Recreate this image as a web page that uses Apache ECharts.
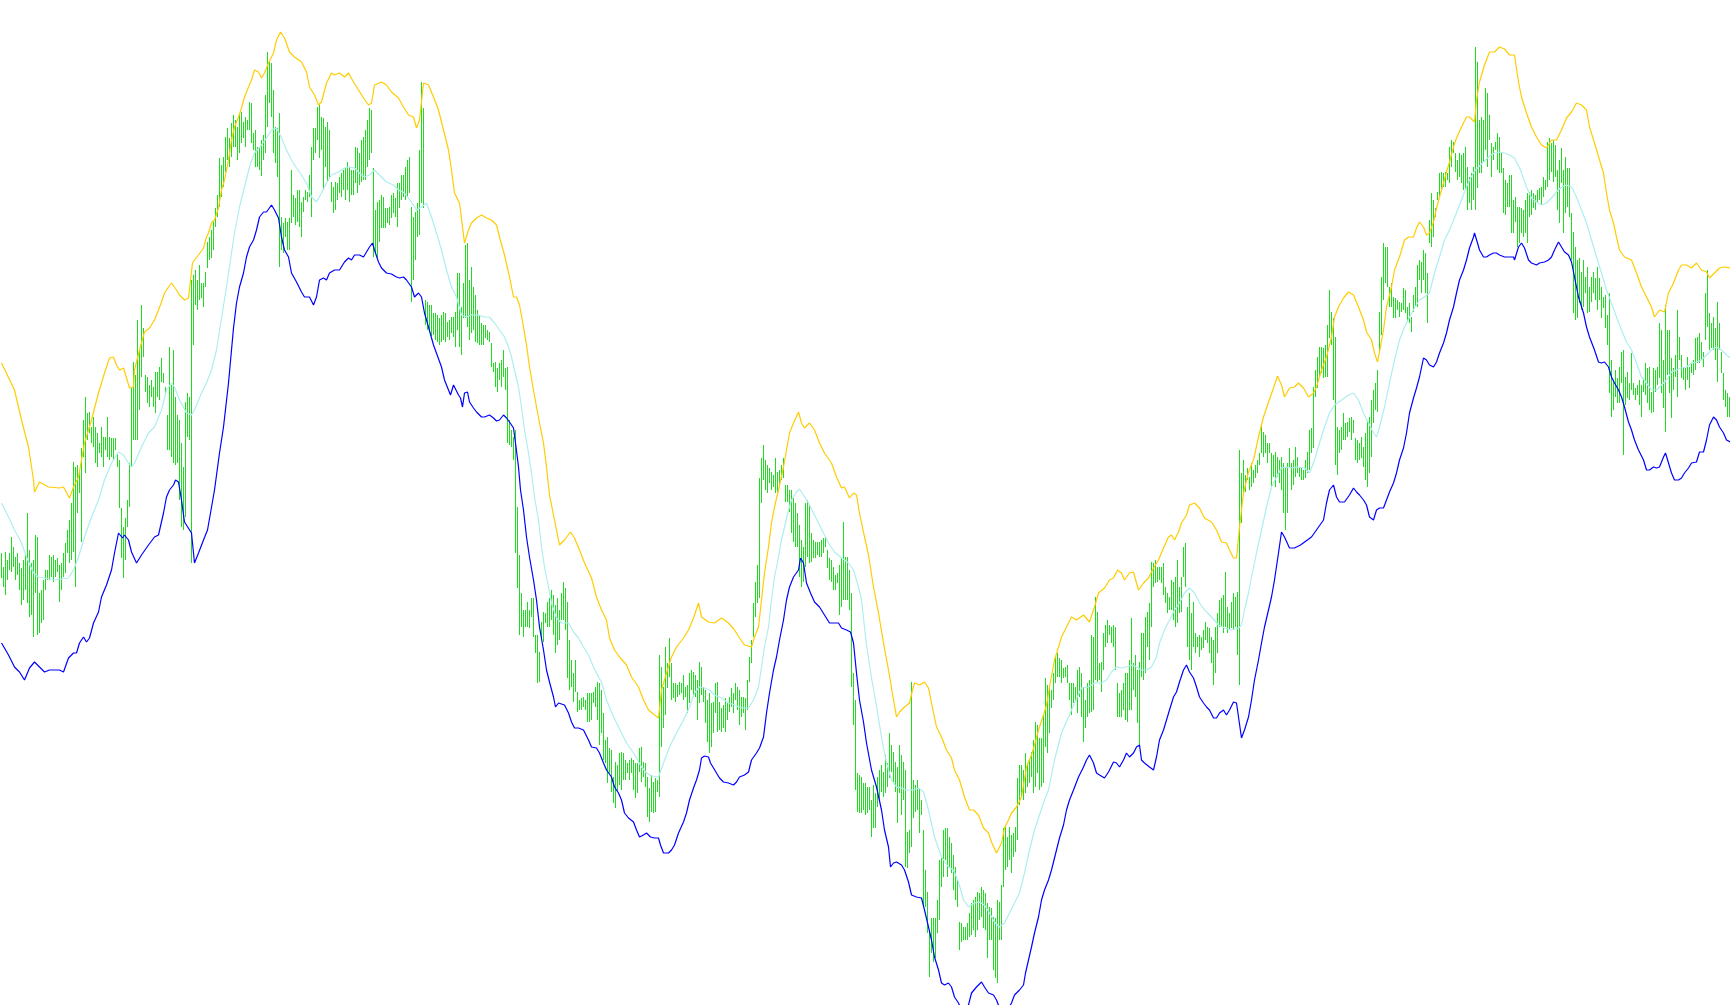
<!DOCTYPE html>
<html><head><meta charset="utf-8">
<script src="https://cdn.jsdelivr.net/npm/echarts@6.0.0/dist/echarts.min.js"></script>
<style>html,body{margin:0;padding:0;background:#fff;overflow:hidden}#c{width:1730px;height:1005px}</style>
</head><body><div id="c"></div>
<script>
// Bar highs / lows (price points), one per bar
const barHigh = [
447,433,448,440,447,463,453,443,447,437,
432,440,447,487,450,437,440,465,463,407,
410,420,430,430,445,443,445,440,442,435,
437,447,457,470,480,497,538,533,535,530,
552,580,603,587,588,573,583,573,567,557,
573,563,563,583,563,562,562,562,547,540,
492,473,482,500,537,612,638,625,680,650,
695,672,625,623,615,620,613,628,628,633,
642,627,613,585,653,615,650,603,585,580,
557,533,598,607,603,720,725,730,720,735,
717,717,728,758,763,770,778,792,805,842,
835,843,863,872,862,877,885,880,873,887,
888,878,883,880,898,897,867,870,853,852,
860,865,905,948,938,937,910,873,872,887,
783,777,782,778,782,830,805,802,810,810,
798,803,810,808,825,853,872,872,893,895,
883,882,873,878,870,818,813,818,817,823,
827,830,832,838,833,830,830,853,852,847,
860,863,870,880,892,890,832,790,798,800,
805,803,792,792,793,805,807,802,817,817,
825,825,833,840,843,793,783,788,797,850,
918,892,700,698,695,695,687,687,685,682,
685,688,687,678,680,683,683,688,727,727,
693,717,755,757,720,733,713,705,690,685,
677,675,675,670,668,657,637,638,632,637,
640,650,632,633,580,570,563,570,493,445,
407,390,390,398,390,402,402,365,365,348,
378,388,387,398,402,410,405,395,402,390,
407,418,412,398,360,340,327,340,308,300,
302,303,300,307,307,307,308,313,318,317,
310,287,260,263,252,250,223,238,235,247,
248,247,240,237,240,242,240,237,237,252,
253,238,237,223,212,225,218,222,220,345,
333,313,353,337,362,337,317,317,315,318,
317,325,313,315,327,330,328,325,320,338,
333,313,310,300,307,297,298,317,318,298,
292,295,302,297,303,312,307,317,313,310,
303,303,302,320,343,360,397,418,435,522,
542,555,540,535,532,528,525,542,528,530,
535,542,515,515,510,510,502,497,487,475,
460,453,497,500,495,467,460,458,458,458,
460,462,463,450,442,440,433,425,427,435,
442,478,443,443,430,407,327,300,227,225,
223,217,217,213,213,200,215,207,223,230,
235,228,245,237,267,255,248,238,233,255,
245,238,230,168,170,318,220,215,220,212,
200,170,130,108,70,82,82,82,100,140,
142,170,172,172,163,157,145,133,120,78,
77,73,73,77,87,97,100,103,108,107,
113,110,107,97,93,92,83,82,100,98,
115,172,173,163,173,165,167,173,222,235,
235,230,247,237,240,248,260,278,275,262,
262,285,322,315,313,310,327,343,347,342,
340,332,333,335,317,317,317,313,330,333,
327,313,300,317,320,365,363,403,388,337,
338,367,375,380,375,373,375,373,317,307,
310,317,327,327,340,382,337,345,330,338,
367,367,383,388,397,438,437,440,433,433,
433,437,413,407,403,420,418,423,440,413,
423,453,457,393,407,387,398,367,363,365,
363,370,378,373,372,363,360,373,387,400,
402,405,428,393,387,398,407,403,408,550,
527,540,525,532,523,537,530,535,540,547,
575,568,565,557,557,547,545,548,543,540,
543,537,533,537,552,537,540,553,543,533,
532,530,540,548,570,572,613,630,643,653,
653,652,655,675,710,688,682,663,573,570,
573,587,577,578,582,583,580,562,560,557,
563,553,567,580,583,600,610,617,630,688,
723,757,753,753,713,717,703,702,700,698,
697,712,710,693,697,683,705,713,735,740,
738,750,747,727,780,807,800,792,808,827,
828,827,828,827,853,860,858,847,840,847,
845,847,853,833,823,827,833,953,938,880,
883,880,912,907,885,857,853,858,867,863,
847,832,820,817,825,825,800,803,793,793,
792,790,800,807,808,810,807,805,810,812,
813,823,820,858,862,857,860,855,830,840,
852,830,843,832,832,787,768,753,740,742,
728,740,723,733,713,723,728,722,733,722,
713,703,705,685,707,640,618,630,622,633,
648,650,623,628,617,647,617,612,615,620,
615,622,637,632,633,608,632,630,633,677,
670,640,695,670,670,642,632,645,690,663,
645,633,632,643,633,637,640,662,663,667,
658,648,707,730,687,677,683,672,698,677,
648,627,610,607,603
];
const barLow = [
422,413,405,420,430,428,433,420,425,410,
395,400,410,397,383,385,363,407,365,367,
377,380,410,420,420,423,418,423,428,398,
410,423,427,447,437,440,448,413,487,507,
458,543,527,560,567,557,553,537,533,547,
543,533,550,543,540,543,540,550,533,492,
442,422,440,473,493,533,560,560,560,590,
623,643,608,597,593,603,593,587,603,600,
618,617,605,550,550,543,537,535,537,500,
473,470,483,563,560,437,655,695,690,700,
702,693,713,732,740,742,750,773,783,793,
803,813,828,840,833,843,853,853,840,847,
857,862,853,870,870,857,850,833,833,830,
824,840,847,873,897,883,847,837,823,733,
750,747,763,750,750,777,783,775,778,773,
763,788,800,798,803,783,840,847,860,842,
850,810,833,818,823,798,787,790,800,807,
803,810,800,810,798,805,805,817,807,815,
818,820,820,833,840,847,743,747,742,758,
772,772,772,777,775,782,787,783,773,792,
800,803,800,803,807,698,720,740,763,765,
797,792,675,670,668,664,665,660,658,655,
658,660,658,663,660,667,663,653,670,653,
645,682,682,673,660,667,670,658,657,655,
655,655,662,660,658,633,628,613,608,620,
613,623,610,557,555,553,540,447,412,365,
373,363,373,373,372,383,363,347,317,318,
360,358,377,373,373,380,365,347,355,360,
380,380,370,322,310,313,298,308,288,290,
290,293,290,278,278,280,297,293,280,255,
267,240,237,217,227,208,197,192,208,215,
210,220,220,227,220,227,210,202,207,228,
218,223,213,183,178,188,187,188,208,203,
253,272,285,312,323,300,302,298,303,305,
307,300,303,287,297,310,305,303,280,297,
305,298,277,258,247,253,267,287,268,270,
268,272,268,280,288,293,287,300,290,275,
283,287,270,290,318,337,363,383,397,402,
497,520,510,507,517,510,513,507,508,513,
520,522,498,498,488,467,458,453,453,423,
413,418,433,443,437,438,442,442,445,443,
443,447,453,432,420,418,410,410,417,385,
393,400,400,400,390,313,275,210,188,187,
187,190,185,187,190,163,172,172,193,200,
208,203,207,213,222,228,218,208,177,207,
185,200,133,132,147,153,182,188,190,167,
185,93,93,67,23,47,38,42,67,80,
113,123,140,123,133,127,110,100,93,50,
58,60,60,60,63,65,70,63,70,80,
83,72,70,42,60,60,30,22,17,60,
60,113,130,133,140,127,143,148,160,195,
203,200,207,213,217,223,207,213,227,210,
213,217,253,247,267,292,300,317,323,323,
317,322,323,317,300,285,297,300,287,303,
283,258,272,283,287,288,290,320,318,320,
308,330,353,357,365,357,353,330,283,283,
283,290,280,278,290,290,310,303,277,255,
323,320,327,353,340,373,413,417,418,420,
417,405,397,387,390,390,380,373,377,387,
388,423,413,353,340,330,353,347,353,343,
350,352,360,357,347,337,315,327,347,373,
373,367,373,367,370,372,370,373,345,315,
477,507,508,520,510,513,517,522,527,535,
547,543,547,537,547,513,523,513,523,517,
510,487,470,487,533,510,515,523,527,523,
520,520,522,527,530,547,552,603,612,623,
627,622,623,623,662,655,600,535,525,547,
550,560,560,563,568,560,567,540,537,540,
542,533,520,513,527,543,577,590,588,647,
665,700,717,713,693,693,682,682,690,683,
688,690,687,678,677,668,688,693,693,720,
707,720,707,677,757,753,763,783,800,803,
810,813,813,820,817,833,847,828,820,823,
817,810,810,790,797,790,800,790,812,827,
827,838,850,833,860,823,840,850,830,827,
827,787,785,793,793,767,767,778,753,757,
767,763,767,757,783,785,792,790,797,800,
795,803,810,813,820,828,818,823,790,777,
817,767,787,793,783,740,687,680,682,697,
690,693,707,687,688,698,707,700,690,700,
682,692,672,655,607,583,590,603,597,597,
617,545,595,602,600,610,605,600,605,595,
583,608,605,597,590,587,588,608,615,622,
607,592,568,625,607,582,610,623,603,640,
622,620,610,620,612,627,625,630,637,637,
640,633,660,673,650,652,650,640,618,650,
627,600,593,583,583
];
// Band lines: [bar index, price]
const upperBand = [[0,637],[6.5,610],[10,580],[13.5,553],[16,520],[16.5,508],[19,518],[23.5,513],[29,512],[31,513],[34,502],[36,513],[38.5,523],[41.5,557],[45,580],[48.5,607],[51.5,627],[54,642],[56,643],[57.5,635],[59,630],[61,632],[62.5,622],[64,612],[66,613],[66.5,630],[69,650],[71.5,668],[74,672],[76.5,680],[78.5,690],[80,698],[81.5,707],[83.5,713],[85,717],[86,717],[87.5,710],[89,705],[91.5,700],[93.5,702],[94.5,703],[95.5,737],[96.5,740],[98.5,745],[101,752],[102.5,763],[103.5,767],[105,777],[106.5,780],[108.5,792],[110,810],[111.5,820],[113.5,840],[115,860],[116.5,873],[118.5,883],[120,892],[121.5,903],[123.5,913],[125,920],[126.5,930],[128.5,928],[130,922],[131.5,927],[133.5,937],[136,947],[137.5,960],[139.5,968],[141.5,962],[144,948],[146.5,943],[150,938],[152.5,928],[154,913],[156.5,905],[158.5,895],[160,898],[162.5,917],[165,927],[166.5,925],[169,927],[171.5,923],[173.5,927],[176,918],[178.5,910],[181,902],[183.5,895],[185,897],[186.5,915],[190,918],[192.5,915],[195,908],[198.5,902],[201,893],[203.5,885],[206,883],[207.5,872],[209,880],[211,917],[213.5,915],[216,903],[218.5,890],[221,870],[223.5,850],[225,830],[226.5,807],[229,797],[231.5,757],[233.5,770],[235,777],[237.5,782],[240,785],[242.5,782],[245,780],[247.5,775],[249,763],[251.5,745],[254,723],[256,703],[257.5,703],[259,695],[261,673],[262.5,655],[264,633],[266,610],[267.5,593],[269,577],[271,557],[272.5,533],[274,505],[276.5,480],[279,455],[281.5,460],[284.5,468],[286.5,462],[289,450],[291.5,437],[295,422],[297.5,403],[300,390],[302.5,380],[304,362],[306.5,350],[309,343],[312.5,335],[315,323],[318.5,313],[321,300],[323.5,290],[326.5,285],[328.5,282],[330,310],[332.5,327],[335,343],[337.5,353],[341,362],[343.5,370],[346,382],[348.5,397],[350,383],[353.5,378],[356.5,377],[360,382],[363.5,377],[366.5,370],[369,362],[371.5,355],[375,353],[376.5,363],[378.5,373],[380,400],[381.5,427],[383.5,453],[385,477],[386.5,493],[388.5,510],[391,533],[392.5,550],[394,567],[396,577],[398.5,588],[400,577],[401.5,572],[404,577],[406.5,570],[409,557],[411.5,547],[415,537],[417.5,523],[420,512],[421.5,513],[424,502],[426,507],[427.5,505],[429,487],[431.5,463],[433.5,445],[436,413],[438.5,387],[441,357],[443.5,330],[446,300],[447.5,283],[449,288],[451.5,293],[454,297],[455.5,310],[456.5,317],[459,315],[461.5,318],[463.5,312],[465,297],[467.5,273],[470,263],[472.5,250],[475,242],[476.5,230],[479,220],[481.5,203],[484,190],[486,190],[488.5,185],[491,172],[493.5,167],[495,158],[497.5,147],[500,157],[501.5,172],[503.5,180],[505,187],[507.5,193],[510,203],[512.5,233],[515,245],[516.5,255],[518.5,270],[521,285],[522.5,295],[524,313],[526.5,340],[528.5,353],[530,363],[532.5,373],[535,383],[537.5,380],[541,385],[544,378],[546.5,393],[548.5,407],[551.5,412],[554,420],[556,422],[558,430],[560,427],[561.5,420],[564,427],[566,428],[567.5,417],[568.5,410],[571,417],[573.5,422],[576,432],[578.5,440],[581,452],[583.5,463],[585,465],[586.5,460],[588.5,468],[590,477],[592.5,485],[594,495],[596.5,497],[599,492],[601.5,482],[605,478],[607.5,470],[610,458],[612.5,457],[614,450],[616,442],[617.5,442],[619,473],[621,507],[623.5,528],[626,540],[628.5,563],[631,583],[633.5,598],[636,612],[638,624],[640,615],[641.5,603],[644,612],[646.5,613],[648.5,617],[651,612],[653.5,603],[656,607],[657.5,613],[660,630],[662.5,643],[665,663],[666.5,683],[668.5,693],[671,702],[673.5,708],[676,705],[678.5,693],[681,680],[682.5,668],[685,660],[686.5,647],[688,638],[689,648],[691,670],[692.5,693],[695,713],[696.5,730],[699,743],[701.5,760],[703.5,763],[706,763],[707.5,772],[709,778],[711,773],[712.5,765],[714,767],[716,778],[717.5,792],[719,803],[721,817],[722.5,828],[724,838],[726,853],[727.5,862],[730,873],[732.5,883],[734,883],[736.5,878],[737.5,900],[739,918],[741.5,935],[744,948],[746.5,948],[749,953],[751.5,951],[754,945],[756.5,945],[758.5,918],[760,903],[762.5,887],[765,873],[767.5,863],[770,855],[772.5,852],[775,860],[777.5,860],[780,870],[782.5,882],[785,888],[787.5,897],[790,895],[792.5,890],[794,873],[796.5,857],[799,840],[801,827],[802.5,807],[804,790],[806,777],[807.5,763],[809,750],[811.5,743],[815,740],[817.5,727],[820,713],[822.5,703],[825,693],[826.5,683],[829,690],[831.5,688],[833.5,707],[836,717],[838.5,730],[840,735],[842.5,735],[845,732],[847.5,737],[850,730],[852.5,728],[854,722],[856.5,727],[859,732],[861.5,733],[864.5,732]];
const middleBand = [[0,497],[3.5,483],[6.5,470],[10,457],[12.5,443],[16,427],[18.5,423],[21.5,422],[26.5,420],[33.5,422],[36,430],[38.5,443],[41.5,463],[45,483],[48.5,500],[51.5,520],[55,537],[58.5,548],[61,545],[63.5,537],[65,533],[66.5,537],[70,553],[73.5,567],[76.5,573],[80,590],[82.5,610],[85,617],[86.5,613],[89,600],[92.5,587],[95,585],[96.5,590],[100,607],[102.5,617],[105,630],[107.5,650],[110,682],[112.5,713],[115,747],[116.5,767],[119,793],[121.5,813],[124,833],[126.5,847],[130,855],[132.5,862],[135,870],[137.5,872],[140,862],[142.5,850],[145,840],[147.5,832],[150,825],[152.5,817],[155,803],[157.5,798],[160,807],[162.5,817],[165,825],[168.5,828],[171.5,832],[174,833],[176.5,832],[179,827],[181.5,823],[184,825],[186.5,830],[189,825],[192.5,818],[196,815],[198.5,810],[201.5,807],[205,798],[207.5,790],[210,793],[212.5,797],[215,783],[217.5,767],[220,750],[222.5,730],[225,713],[227.5,703],[230,685],[232.5,683],[235,685],[238.5,685],[241,683],[244,683],[246.5,677],[249,670],[251.5,663],[253.5,653],[255,643],[256.5,630],[258.5,613],[260,593],[261.5,570],[263.5,547],[265,527],[266.5,503],[268.5,480],[270,453],[271.5,433],[273.5,413],[275,397],[277.5,382],[280,377],[283.5,377],[286,368],[288.5,362],[291,353],[293.5,345],[296,333],[298.5,323],[300,318],[302.5,300],[305,288],[307.5,277],[310,267],[312.5,257],[315,250],[317.5,242],[320,233],[322.5,227],[325,224],[328.5,223],[331,237],[334,253],[337.5,267],[341,280],[344,293],[346.5,307],[349,313],[351.5,312],[354,310],[356.5,305],[360,302],[363.5,297],[366.5,295],[370,292],[373.5,292],[376,300],[378.5,313],[380,333],[381.5,353],[383.5,373],[385,400],[386.5,423],[388.5,443],[390,460],[391.5,473],[393.5,490],[395,500],[397.5,508],[399,511],[401,505],[403.5,497],[406,487],[408.5,477],[411,467],[413.5,457],[416.5,448],[420,442],[423.5,437],[426,430],[428.5,413],[430,400],[432.5,355],[435,322],[437.5,294],[440,263],[442.5,237],[445,220],[447.5,213],[450,212],[452.5,210],[456,210],[458.5,212],[461,208],[463.5,190],[466.5,163],[470,143],[473.5,133],[476,130],[478.5,118],[481,100],[483.5,93],[486.5,97],[489,98],[491.5,95],[494,87],[496.5,78],[499,73],[501.5,77],[504,87],[506.5,97],[509,107],[511.5,127],[514,150],[516.5,170],[519,185],[521.5,200],[523.5,210],[526.5,240],[530,267],[533.5,283],[536.5,297],[540,312],[543.5,313],[546.5,317],[550,317],[552.5,320],[555,328],[557.5,333],[560,332],[562.5,333],[565,335],[567.5,333],[570,330],[572.5,330],[575,333],[577.5,343],[579,357],[581.5,370],[584,380],[586.5,390],[589,397],[591.5,407],[594,412],[596.5,407],[599,397],[601.5,390],[605,383],[608.5,375],[611.5,372],[615,370],[618.5,372],[620,375],[621.5,390],[623.5,407],[625,423],[627.5,447],[630,470],[632.5,493],[635,513],[637.5,523],[640,532],[642.5,533],[645,532],[647.5,533],[651.5,532],[654,527],[656.5,540],[659,557],[661.5,573],[664,587],[666.5,595],[670,600],[673.5,605],[676,607],[678.5,600],[681,587],[683.5,577],[686,567],[687.5,563],[689,573],[691.5,593],[694,617],[696.5,640],[699,660],[701.5,673],[704,683],[706.5,692],[709,700],[711.5,703],[714,707],[716.5,727],[719,743],[721.5,760],[724,770],[726.5,782],[729,795],[731.5,808],[734,820],[736.5,829],[739,834],[741.5,839],[744,844],[746.5,847],[749,848],[751.5,847],[754,845],[756.5,842],[759.5,830],[762.5,813],[765,802],[767.5,798],[770,795],[772.5,797],[775,802],[777.5,808],[780,813],[782.5,815],[785,813],[787.5,803],[790,790],[792.5,777],[795,760],[797.5,743],[800,727],[802.5,710],[805,697],[807.5,683],[810,670],[812.5,658],[815,650],[817.5,637],[820,623],[822.5,617],[825,610],[827.5,610],[830,615],[832.5,620],[835,628],[837.5,630],[840,632],[842.5,633],[845,637],[847.5,638],[850,640],[852.5,645],[855,650],[857.5,653],[860,650],[862.5,645],[864.5,642]];
const lowerBand = [[0,357],[3.5,345],[6.5,333],[9,328],[11.5,320],[14,332],[16.5,338],[19,333],[21.5,328],[24,330],[29,330],[31,328],[33.5,342],[36,347],[37.5,347],[39,357],[41,363],[42.5,358],[44,362],[46,377],[48.5,388],[50,403],[52.5,415],[55,430],[56.5,447],[58.5,467],[60.5,462],[61.5,465],[63.5,460],[65,448],[67.5,437],[70,445],[73.5,455],[76.5,463],[78.5,465],[81,487],[82.5,503],[84,510],[86,515],[87,520],[88.5,518],[90,500],[91.5,478],[95,467],[96.5,437],[98.5,447],[101,460],[103,470],[104.5,487],[106.5,510],[109,547],[111,573],[113.5,617],[116,672],[117.5,697],[119,713],[121,727],[122.5,743],[124,753],[126,760],[127.5,770],[129,783],[131,788],[132.5,788],[135,795],[136.5,790],[138.5,782],[140,763],[141.5,750],[143.5,743],[145,727],[147.5,718],[150,708],[151.5,703],[154,703],[156,695],[157.5,703],[159,720],[161,722],[162.5,720],[164,727],[166.5,730],[169,730],[171.5,738],[173.5,742],[175,740],[176.5,745],[179,745],[181,743],[182.5,748],[184,753],[185.5,757],[186.5,750],[188.5,738],[190,732],[192.5,727],[195,726],[197.5,723],[199,722],[201,723],[202.5,720],[205,713],[206.5,703],[208.5,707],[210,703],[211.5,687],[212.5,680],[216,655],[220,633],[221.5,620],[223.5,610],[224.5,605],[226,615],[227,613],[228.5,605],[229.5,602],[230.5,593],[231.5,607],[233,608],[234,598],[236,592],[237.5,588],[240,583],[241.5,583],[244,585],[246,582],[247.5,579],[249,580],[251,585],[252.5,582],[254,578],[256,572],[257,557],[258.5,533],[259.5,510],[261,490],[262.5,463],[264,443],[266,420],[267.5,400],[269,373],[271,350],[272.5,330],[274,318],[276,303],[277,293],[278.5,297],[279.5,298],[281.5,295],[283.5,287],[285,278],[286.5,272],[288.5,272],[291,270],[293.5,260],[295,253],[297.5,252],[299,247],[301,237],[302.5,230],[305,223],[306.5,213],[308.5,207],[310,200],[311.5,187],[313.5,182],[316,178],[317.5,170],[319,163],[321,165],[322.5,167],[324.5,163],[326.5,162],[328.5,162],[329.5,155],[331,147],[333.5,147],[335,150],[336.5,155],[338.5,167],[341,178],[342.5,187],[344,200],[346,212],[347.5,220],[349,230],[350,242],[351.5,244],[353.5,243],[354.5,237],[356,232],[357.5,227],[359,222],[361,218],[363.5,217],[366,215],[367.5,218],[369,223],[371.5,225],[373.5,228],[375,240],[377.5,247],[379,252],[381,263],[382.5,287],[384,307],[386,330],[387.5,343],[389,360],[391,380],[392.5,400],[394,413],[396,423],[398.5,430],[399.5,442],[401,437],[402.5,417],[404.5,407],[406.5,398],[409,393],[411.5,385],[414,377],[416.5,377],[418.5,377],[420,372],[422.5,370],[424.5,368],[426,357],[427.5,327],[429,300],[431,278],[432.5,257],[435,230],[437.5,213],[440,190],[441.5,170],[443.5,153],[444.5,133],[446,137],[447.5,138],[450,135],[451.5,130],[453.5,118],[455,105],[457.5,103],[460,102],[461.5,90],[463.5,73],[465,60],[466.5,43],[468.5,30],[470,17],[471.5,15],[473.5,17],[475,13],[476.5,3],[478.5,-3],[480,-10],[483.5,-5],[485,7],[487.5,13],[490,18],[491.5,13],[493.5,7],[496,5],[497.5,0],[499,-8],[502.5,-12],[505,-3],[506.5,5],[509,10],[511,15],[512,27],[513.5,40],[515,53],[516.5,67],[518.5,83],[520,100],[521.5,110],[523.5,120],[525,130],[527.5,150],[529,162],[531,175],[532.5,190],[534,200],[536,210],[538.5,223],[541,233],[542.5,240],[544,245],[546,237],[547.5,227],[549,225],[551.5,222],[553.5,228],[556,238],[557.5,237],[559,233],[561,240],[562.5,247],[564,243],[566,247],[567.5,253],[569,255],[570,240],[571.5,237],[574,233],[576,230],[577.5,243],[579,260],[581,270],[582.5,280],[584,290],[586,303],[587.5,308],[589,318],[591,330],[592.5,335],[594,328],[596,322],[597.5,313],[599,303],[601,297],[602.5,293],[604,290],[606,282],[607.5,282],[609,287],[611,290],[612.5,285],[614,290],[616,298],[617.5,297],[618.5,283],[620,262],[621.5,270],[623.5,283],[625,300],[626.5,320],[628.5,340],[630,357],[631.5,373],[633.5,390],[635,403],[636.5,420],[638.5,447],[640,468],[641.5,463],[644,452],[646.5,452],[649.5,455],[655,463],[661,480],[662.5,497],[664,510],[666,515],[667.5,503],[669,498],[671.5,498],[674,505],[676,512],[677.5,508],[679,505],[681,500],[682.5,495],[684,483],[686,480],[687.5,490],[689,492],[691,492],[692.5,500],[694,508],[696,517],[697.5,527],[699,540],[701,552],[702.5,567],[704,587],[706,602],[707.5,612],[709,623],[711,642],[712.5,640],[714,635],[716,633],[717.5,638],[719,647],[721,657],[722.5,667],[724,680],[726,693],[727.5,707],[729,720],[731,730],[732.5,740],[734,752],[736,763],[736.5,767],[738,757],[739,750],[741,743],[742.5,743],[744,745],[746,747],[747.5,747],[749,745],[751.5,743],[754,743],[756,743],[756.5,740],[758.5,753],[760,757],[761.5,752],[763.5,740],[765,737],[767.5,735],[769,737],[771.5,738],[773.5,740],[775,743],[776.5,750],[778.5,758],[780,753],[781.5,748],[783.5,745],[785,738],[786.5,723],[788.5,703],[791,687],[792.5,673],[794,663],[796.5,650],[798.5,638],[800,637],[801.5,638],[803.5,633],[805,623],[806.5,617],[808.5,610],[810,603],[811.5,593],[813.5,578],[815,570],[816.5,560],[818.5,550],[821,540],[822.5,530],[824,530],[826,533],[827.5,532],[829,533],[831,543],[832,547],[833.5,537],[835,527],[836.5,520],[838.5,520],[840,522],[841.5,527],[843.5,532],[845,537],[847.5,538],[849,548],[851,548],[852.5,560],[854,575],[856,583],[857.5,580],[859,573],[861,567],[862.5,560],[864.5,558]];

const barData = barHigh.map(function (h, i) { return [i, h, barLow[i]]; });

const chart = echarts.init(document.getElementById('c'), null, { renderer: 'canvas' });
chart.setOption({
  animation: false,
  backgroundColor: '#ffffff',
  grid: { left: 0, right: 0, top: 0, bottom: 0 },
  xAxis: { type: 'value', min: -0.75, max: barHigh.length - 0.75, show: false },
  yAxis: { type: 'value', min: -5, max: 1000, show: false },
  series: [
    {
      type: 'custom',
      data: barData,
      progressive: 0,
      silent: true,
      z: 1,
      renderItem: function (params, api) {
        var x = api.value(0);
        var p1 = api.coord([x, api.value(1)]);
        var p2 = api.coord([x, api.value(2)]);
        var left = Math.round(p1[0] - 0.5);
        var top = Math.round(p1[1]);
        var bottom = Math.round(p2[1]);
        return {
          type: 'rect',
          shape: { x: left, y: top, width: 1, height: Math.max(1, bottom - top) },
          style: { fill: '#1edc1e' }
        };
      }
    },
    { type: 'line', data: middleBand, symbol: 'none', silent: true, z: 2,
      lineStyle: { color: '#afeeee', width: 1.2 } },
    { type: 'line', data: upperBand, symbol: 'none', silent: true, z: 3,
      lineStyle: { color: '#ffcc00', width: 1.2 } },
    { type: 'line', data: lowerBand, symbol: 'none', silent: true, z: 3,
      lineStyle: { color: '#0000ff', width: 1.2 } }
  ]
});
</script>
</body></html>
